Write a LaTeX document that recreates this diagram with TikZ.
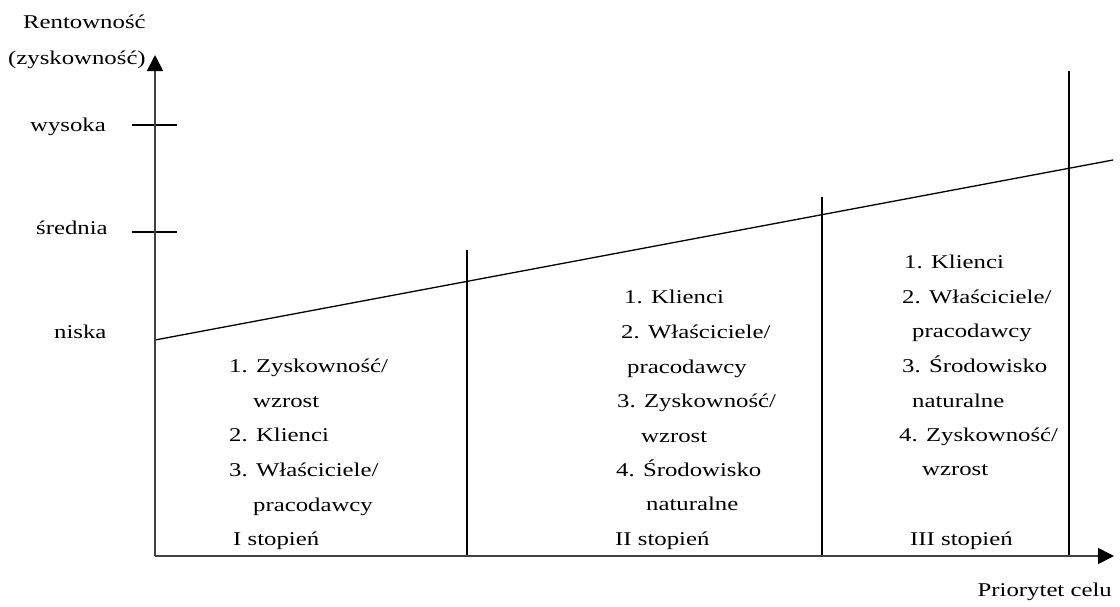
\documentclass[tikz,border=0pt]{standalone}
\usepackage{fontspec}
\setmainfont{Liberation Serif}
\usetikzlibrary{arrows.meta}
\newcommand\hs[1]{\scalebox{1.27}[1]{#1}}
\tikzset{
  txt/.style={font=\fontsize{19.5}{21}\selectfont, inner sep=0pt, anchor=base west},
  axis/.style={line width=1.7pt, black!75, -{Triangle[length=16pt,width=16pt,color=black]}},
  ln/.style={line width=1.3pt, black},
}
\begin{document}
\begin{tikzpicture}[x=1pt,y=-1pt]
\useasboundingbox (0,0) rectangle (1120,606);
% coordinates
\coordinate (O) at (155,556);
\coordinate (ytip) at (155,55);
\coordinate (xtip) at (1114,556);
\coordinate (t1a) at (132,125); \coordinate (t1b) at (177,125);
\coordinate (t2a) at (132,232); \coordinate (t2b) at (177,232);
\coordinate (L0) at (155,340);
\coordinate (L1) at (1113,160);
\coordinate (d1t) at (467,250); \coordinate (d1b) at (467,556);
\coordinate (d2t) at (822,197); \coordinate (d2b) at (822,556);
\coordinate (d3t) at (1069,71); \coordinate (d3b) at (1069,556);
% lines
\draw[ln] (t1a) -- (t1b);
\draw[ln] (t2a) -- (t2b);
\draw[ln] (L0) -- (L1);
\draw[ln] (d1t) -- (d1b);
\draw[ln] (d2t) -- (d2b);
\draw[ln] (d3t) -- (d3b);
\draw[axis] (O) -- (ytip);
\draw[axis] (O) -- (xtip);
% axis labels
\node[txt] (yl1) at (23,28) {\hs{Rentowność}};
\node[txt] (yl2) at (8,64) {\hs{(zyskowność)}};
\node[txt] (w) at (30,131) {\hs{wysoka}};
\node[txt] (s) at (36,234) {\hs{średnia}};
\node[txt] (n) at (54,338) {\hs{niska}};
\node[txt,anchor=base east] (xl) at (1112,596) {\hs{Priorytet celu}};
% column I
\node[txt] (a1) at (229,372) {\hs{1. Zyskowność/}};
\node[txt] (a2) at (253,407) {\hs{wzrost}};
\node[txt] (a3) at (229,441) {\hs{2. Klienci}};
\node[txt] (a4) at (229,476) {\hs{3. Właściciele/}};
\node[txt] (a5) at (253,511) {\hs{pracodawcy}};
\node[txt] (a6) at (233,545) {\hs{I stopień}};
% column II
\node[txt] (b1) at (624,303) {\hs{1. Klienci}};
\node[txt] (b2) at (621,338) {\hs{2. Właściciele/}};
\node[txt] (b3) at (627,373) {\hs{pracodawcy}};
\node[txt] (b4) at (617,407) {\hs{3. Zyskowność/}};
\node[txt] (b5) at (641,442) {\hs{wzrost}};
\node[txt] (b6) at (616,476) {\hs{4. Środowisko}};
\node[txt] (b7) at (646,510) {\hs{naturalne}};
\node[txt] (b8) at (615,545) {\hs{II stopień}};
% column III
\node[txt] (c1) at (904,268) {\hs{1. Klienci}};
\node[txt] (c2) at (902,303) {\hs{2. Właściciele/}};
\node[txt] (c3) at (912,337) {\hs{pracodawcy}};
\node[txt] (c4) at (902,372) {\hs{3. Środowisko}};
\node[txt] (c5) at (912,407) {\hs{naturalne}};
\node[txt] (c6) at (899,441) {\hs{4. Zyskowność/}};
\node[txt] (c7) at (922,475) {\hs{wzrost}};
\node[txt] (c8) at (910,545) {\hs{III stopień}};
\end{tikzpicture}
\end{document}
